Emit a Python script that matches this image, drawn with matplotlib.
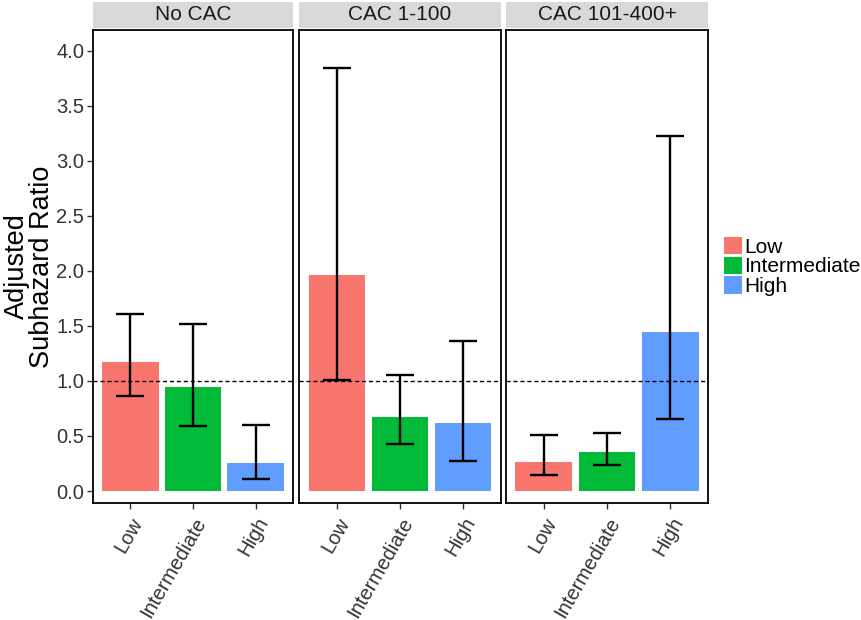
import matplotlib
matplotlib.use("Agg")
import matplotlib.pyplot as plt
from matplotlib.patches import Patch

plt.rcParams['font.family'] = ['Liberation Sans', 'DejaVu Sans']

panels = ["No CAC", "CAC 1-100", "CAC 101-400+"]
categories = ["Low", "Intermediate", "High"]
colors = ["#F8766D", "#00BA38", "#619CFF"]

values = [[1.175, 0.948, 0.252],
          [1.966, 0.670, 0.615],
          [0.267, 0.352, 1.448]]
lower = [[0.866, 0.591, 0.106],
         [1.009, 0.424, 0.273],
         [0.145, 0.236, 0.652]]
upper = [[1.606, 1.518, 0.600],
         [3.845, 1.057, 1.366],
         [0.512, 0.524, 3.230]]

yticks = [0.0, 0.5, 1.0, 1.5, 2.0, 2.5, 3.0, 3.5, 4.0]

W, H = 861, 620
fig = plt.figure(figsize=(W / 100, H / 100), dpi=100)

lefts = [92.7, 299.3, 506.0]
rights = [293.3, 500.7, 708.0]
ptop, pbot = 30, 503
stop, sbot = 2, 28

for i, name in enumerate(panels):
    ax = fig.add_axes([lefts[i] / W, 1 - pbot / H, (rights[i] - lefts[i]) / W, (pbot - ptop) / H])
    x = list(range(1, 4))
    ax.bar(x, values[i], width=0.9, color=colors, zorder=2)
    yerr = [[v - l for v, l in zip(values[i], lower[i])],
            [u - v for v, u in zip(values[i], upper[i])]]
    ax.errorbar(x, values[i], yerr=yerr, fmt='none', ecolor='black',
                elinewidth=1.7, capsize=10, capthick=1.7, zorder=4)
    ax.axhline(1.0, color='black', linestyle=(0, (3, 2)), linewidth=1.0, zorder=3)
    ax.set_xlim(0.4, 3.6)
    ax.set_ylim(-0.109, 4.19)
    ax.set_xticks(x)
    ax.set_xticklabels(categories, rotation=60, ha='right', rotation_mode='anchor',
                       fontsize=14.5, color='#333333')
    ax.set_yticks(yticks)
    if i == 0:
        ax.set_yticklabels([f"{t:.1f}" for t in yticks], fontsize=14.5, color='#333333')
        ax.set_ylabel("Adjusted\nSubhazard Ratio", fontsize=19.5, linespacing=0.95, labelpad=1)
    else:
        ax.set_yticklabels([])
    ax.tick_params(axis='both', color='#333333', width=1, direction='out')
    ax.tick_params(axis='y', length=4 if i == 0 else 0, pad=2)
    ax.tick_params(axis='x', length=4, pad=4)
    for s in ax.spines.values():
        s.set_linewidth(1.3)
        s.set_color('black')
    # strip
    sax = fig.add_axes([lefts[i] / W, 1 - sbot / H, (rights[i] - lefts[i]) / W, (sbot - stop) / H])
    sax.set_facecolor('#D9D9D9')
    sax.set_xticks([]); sax.set_yticks([])
    for s in sax.spines.values():
        s.set_visible(False)
    sax.text(0.5, 0.5, name, ha='center', va='center', fontsize=15, color='#1A1A1A',
             transform=sax.transAxes)

handles = [Patch(facecolor=c, edgecolor='none') for c in colors]
fig.legend(handles, categories, loc='center left', bbox_to_anchor=(724 / W, 1 - 266.5 / H),
           frameon=False, fontsize=15, handlelength=0.85, handleheight=0.9,
           labelspacing=0.0, handletextpad=0.12, borderpad=0, borderaxespad=0)

fig.savefig("out.png", dpi=100)
